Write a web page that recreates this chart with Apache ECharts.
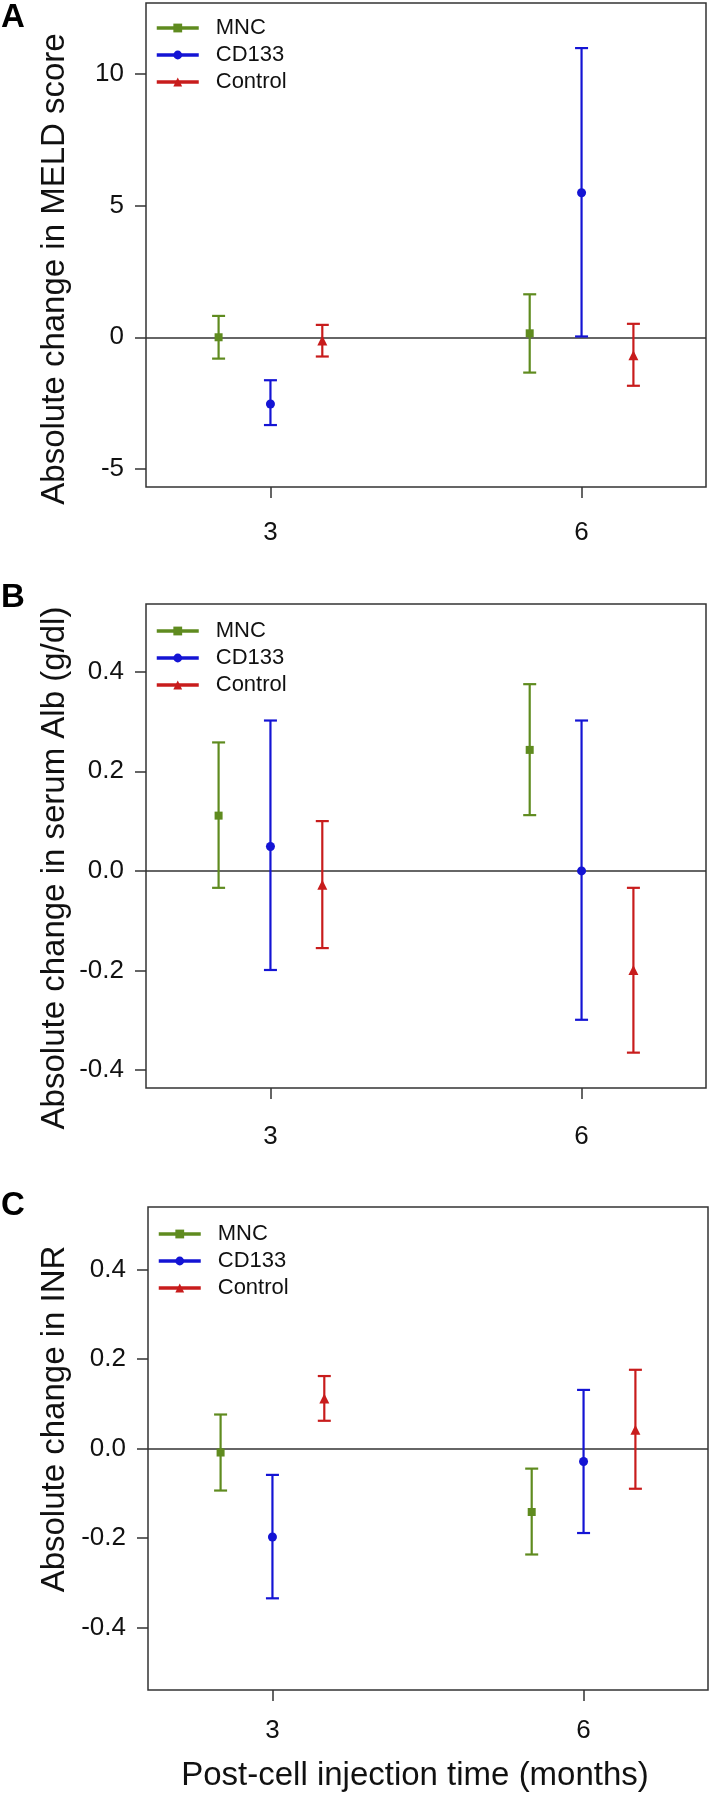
<!DOCTYPE html>
<html>
<head>
<meta charset="utf-8">
<script src="https://cdn.jsdelivr.net/npm/echarts@6/dist/echarts.min.js"></script>
<style>
html,body{margin:0;padding:0;background:#fff;}
#chart{width:712px;height:1797px;}
</style>
</head>
<body>
<div id="chart"></div>
<script>
// ---------------- data ----------------
// time points (months after cell injection)
const months = [3, 6];
const groupNames = ['MNC', 'CD133', 'Control'];

// each entry: [mean, lower, upper] at 3 and 6 months
const meldMNC     = [[0.00, -0.81, 0.81],   [0.15, -1.34, 1.63]];
const meldCD133   = [[-2.53, -3.33, -1.63], [5.48, 0.03, 10.97]];
const meldControl = [[-0.12, -0.73, 0.47],  [-0.68, -1.84, 0.51]];

const albMNC      = [[0.111, -0.034, 0.258], [0.243, 0.112, 0.375]];
const albCD133    = [[0.049, -0.199, 0.302], [0.000, -0.299, 0.302]];
const albControl  = [[-0.028, -0.155, 0.100], [-0.199, -0.365, -0.034]];

const inrMNC      = [[-0.009, -0.094, 0.076], [-0.142, -0.237, -0.045]];
const inrCD133    = [[-0.198, -0.335, -0.059], [-0.029, -0.189, 0.131]];
const inrControl  = [[0.112, 0.062, 0.162],  [0.042, -0.090, 0.176]];

// axis limits and tick labels
const xLim = [2, 7];
const xTicks = [3, 6];
const meldLim = [-5, 12];
const meldTicks = [-5, 0, 5, 10];
const albLim = [-0.4, 0.5];
const albTicks = [-0.4, -0.2, 0.0, 0.2, 0.4];
const inrLim = [-0.5, 0.5];
const inrTicks = [-0.4, -0.2, 0.0, 0.2, 0.4];

const meldTitle = 'Absolute change in MELD score';
const albTitle = 'Absolute change in serum Alb (g/dl)';
const inrTitle = 'Absolute change in INR';
const xTitle = 'Post-cell injection time (months)';

// ---------------- styling / layout ----------------
const FONT = '"Liberation Sans", Arial, Helvetica, sans-serif';
const AXIS_COLOR = '#333333';
const colors = ['#5f8b1f', '#1414d4', '#c81c1c'];
const symbols = ['rect', 'circle', 'triangle'];
const symbolSizes = [8, 9, 10];
const dodge = [-0.5, 0, 0.5];
const capHalf = 6.5;

function ext(lim) { const r = lim[1] - lim[0]; return [lim[0] - 0.04 * r, lim[1] + 0.04 * r]; }

const panels = [
  { letter: 'A', title: meldTitle, lim: meldLim, ticks: meldTicks, dec: 0,
    groups: [meldMNC, meldCD133, meldControl],
    grid: { left: 146, top: 3, width: 560, height: 484 }, xMargin: 33,
    titlePos: [55, 269], letterPos: [1, 18], legendPos: [155, 17] },
  { letter: 'B', title: albTitle, lim: albLim, ticks: albTicks, dec: 1,
    groups: [albMNC, albCD133, albControl],
    grid: { left: 146, top: 604, width: 560, height: 484 }, xMargin: 36,
    titlePos: [55, 868], letterPos: [1, 598], legendPos: [155, 620] },
  { letter: 'C', title: inrTitle, lim: inrLim, ticks: inrTicks, dec: 1,
    groups: [inrMNC, inrCD133, inrControl],
    grid: { left: 148, top: 1207, width: 560, height: 483 }, xMargin: 28,
    titlePos: [55, 1419], letterPos: [1, 1206], legendPos: [157, 1223] }
];

const grids = [], xAxes = [], yAxes = [], series = [], legends = [], graphics = [];
const xr = ext(xLim);

panels.forEach((p, pi) => {
  grids.push(Object.assign({ show: true, borderColor: AXIS_COLOR, borderWidth: 1.5,
    backgroundColor: 'transparent', containLabel: false }, p.grid));
  xAxes.push({
    type: 'value', gridIndex: pi, min: xr[0], max: xr[1], position: 'bottom',
    axisLine: { show: false, onZero: false },
    axisTick: { show: true, customValues: xTicks, length: 11, lineStyle: { color: AXIS_COLOR, width: 1.5 } },
    axisLabel: { show: true, customValues: xTicks, margin: p.xMargin, fontFamily: FONT, fontSize: 26, color: '#111' },
    splitLine: { show: false },
    name: pi === 2 ? xTitle : '', nameLocation: 'middle', nameGap: 69,
    nameTextStyle: { fontFamily: FONT, fontSize: 33, color: '#111', padding: [0, 26, 0, 0] }
  });
  const yr = ext(p.lim);
  yAxes.push({
    type: 'value', gridIndex: pi, min: yr[0], max: yr[1], position: 'left',
    axisLine: { show: false, onZero: false },
    axisTick: { show: true, customValues: p.ticks, length: 11, lineStyle: { color: AXIS_COLOR, width: 1.5 } },
    axisLabel: { show: true, customValues: p.ticks, margin: 22, fontFamily: FONT, fontSize: 26, color: '#111',
      formatter: v => p.dec ? Number(v).toFixed(p.dec) : String(Math.round(v)) },
    splitLine: { show: false }
  });

  p.groups.forEach((g, gi) => {
    const rows = g.map((d, ti) => [months[ti] + dodge[gi], d[0], d[1], d[2]]);
    const col = colors[gi];
    // markers (also used by the legend)
    series.push({
      type: 'line', name: groupNames[gi], xAxisIndex: pi, yAxisIndex: pi,
      data: rows.map(r => [r[0], r[1]]),
      symbol: symbols[gi], symbolSize: symbolSizes[gi], showSymbol: true,
      itemStyle: { color: col }, lineStyle: { color: col, width: 3, opacity: 0 },
      silent: true, z: 4
    });
    // error bars
    const s = {
      type: 'custom', name: groupNames[gi] + ' interval', xAxisIndex: pi, yAxisIndex: pi,
      data: rows, encode: { x: 0, y: [1, 2, 3] }, silent: true, z: 3,
      itemStyle: { color: col },
      renderItem: (params, api) => {
        const x = api.value(0);
        const lo = api.coord([x, api.value(2)]);
        const hi = api.coord([x, api.value(3)]);
        const st = { stroke: col, lineWidth: 2.2 };
        return { type: 'group', children: [
          { type: 'line', shape: { x1: lo[0], y1: lo[1], x2: hi[0], y2: hi[1] }, style: st },
          { type: 'line', shape: { x1: lo[0] - capHalf, y1: lo[1], x2: lo[0] + capHalf, y2: lo[1] }, style: st },
          { type: 'line', shape: { x1: hi[0] - capHalf, y1: hi[1], x2: hi[0] + capHalf, y2: hi[1] }, style: st }
        ]};
      }
    };
    if (gi === 0) {
      s.markLine = { silent: true, symbol: ['none', 'none'], label: { show: false },
        lineStyle: { color: AXIS_COLOR, width: 1.5, type: 'solid' }, data: [{ yAxis: 0 }], z: 1 };
    }
    series.push(s);
  });

  legends.push({
    orient: 'vertical', left: p.legendPos[0], top: p.legendPos[1], padding: 0,
    itemWidth: 42, itemHeight: 11, itemGap: 5, selectedMode: false,
    data: groupNames,
    lineStyle: { width: 3.5, opacity: 1 },
    textStyle: { fontFamily: FONT, fontSize: 22, lineHeight: 22, color: '#111', padding: [0, 0, 0, 12] }
  });

  graphics.push({ type: 'text', x: p.letterPos[0], y: p.letterPos[1],
    style: { text: p.letter, font: 'bold 33px ' + FONT, fill: '#000', textAlign: 'left', textVerticalAlign: 'middle' } });
  graphics.push({ type: 'text', x: p.titlePos[0], y: p.titlePos[1], rotation: Math.PI / 2,
    style: { text: p.title, font: '33px ' + FONT, fill: '#111', textAlign: 'center', textVerticalAlign: 'middle' } });
});

const chart = echarts.init(document.getElementById('chart'), null, { renderer: 'canvas' });
chart.setOption({
  animation: false,
  backgroundColor: '#ffffff',
  grid: grids, xAxis: xAxes, yAxis: yAxes,
  legend: legends, series: series, graphic: graphics
});
</script>
</body>
</html>
